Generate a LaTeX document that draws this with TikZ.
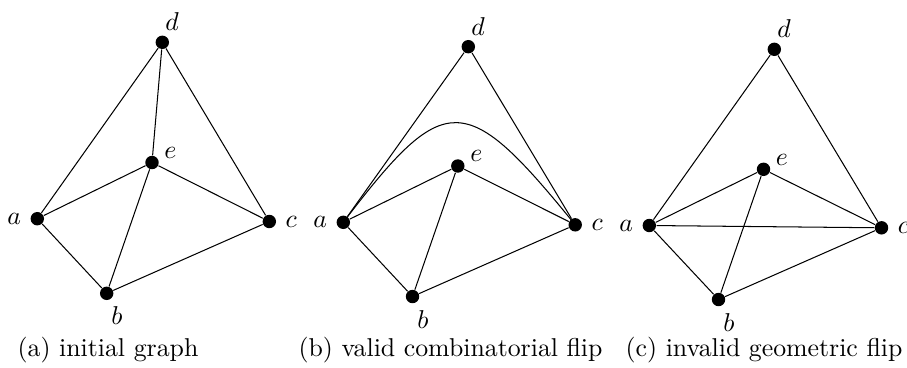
\documentclass[tikz,border=0pt]{standalone}
\usepackage{tikz}
\usetikzlibrary{positioning}

\begin{document}
\begin{tikzpicture}[
    x=0.3876pt, y=-0.3876pt,
    vertex/.style={circle, fill=black, inner sep=0pt, minimum size=5.2pt},
    link/.style={draw=black, line width=0.4pt},
    toplab/.style={label distance=-1.9pt, xshift=3.8pt},
    sidelab/.style={label distance=-1.5pt, yshift=3.8pt},
    botlab/.style={label distance=-1pt, xshift=4pt},
    subcap/.style={anchor=base, font=\normalsize},
  ]
  \useasboundingbox (0,0) rectangle (907,367);

  % (a) initial graph
  \node[vertex, label={180:$a$}] (a1) at (37.3,218.7) {};
  \node[vertex, label={[botlab]-90:$b$}] (b1) at (106.7,293.3) {};
  \node[vertex, label={0:$c$}] (c1) at (269.3,221.5) {};
  \node[vertex, label={[toplab]90:$d$}] (d1) at (162.3,42.3) {};
  \node[vertex, label={[sidelab]0:$e$}] (e1) at (152,162.5) {};

  \draw[link] (a1) -- (d1);
  \draw[link] (d1) -- (c1);
  \draw[link] (d1) -- (e1);
  \draw[link] (a1) -- (e1);
  \draw[link] (e1) -- (c1);
  \draw[link] (a1) -- (b1);
  \draw[link] (b1) -- (c1);
  \draw[link] (b1) -- (e1);

  % (b) valid combinatorial flip
  \node[vertex, label={180:$a$}] (a2) at (343.3,222.3) {};
  \node[vertex, label={[botlab]-90:$b$}] (b2) at (412.5,296.5) {};
  \node[vertex, label={0:$c$}] (c2) at (575.2,224.8) {};
  \node[vertex, label={[toplab]90:$d$}] (d2) at (468.3,46.7) {};
  \node[vertex, label={[sidelab]0:$e$}] (e2) at (457.8,166) {};

  \draw[link] (a2) -- (d2);
  \draw[link] (d2) -- (c2);
  \draw[link] (a2.center) .. controls (445,89) and (465,89) .. (c2.center);
  \draw[link] (a2) -- (e2);
  \draw[link] (e2) -- (c2);
  \draw[link] (a2) -- (b2);
  \draw[link] (b2) -- (c2);
  \draw[link] (b2) -- (e2);

  % (c) invalid geometric flip
  \node[vertex, label={180:$a$}] (a3) at (649.3,225.5) {};
  \node[vertex, label={[botlab]-90:$b$}] (b3) at (718.5,299.5) {};
  \node[vertex, label={0:$c$}] (c3) at (881.5,227.8) {};
  \node[vertex, label={[toplab]90:$d$}] (d3) at (774.3,49.3) {};
  \node[vertex, label={[sidelab]0:$e$}] (e3) at (763.5,169.3) {};

  \draw[link] (a3) -- (d3);
  \draw[link] (d3) -- (c3);
  \draw[link] (a3) -- (c3);
  \draw[link] (a3) -- (e3);
  \draw[link] (e3) -- (c3);
  \draw[link] (a3) -- (b3);
  \draw[link] (b3) -- (c3);
  \draw[link] (b3) -- (e3);

  \node[subcap] (capa) at (108,356) {(a) initial graph};
  \node[subcap] (capb) at (450.5,356) {(b) valid combinatorial flip};
  \node[subcap] (capc) at (764,356) {(c) invalid geometric flip};
\end{tikzpicture}
\end{document}
